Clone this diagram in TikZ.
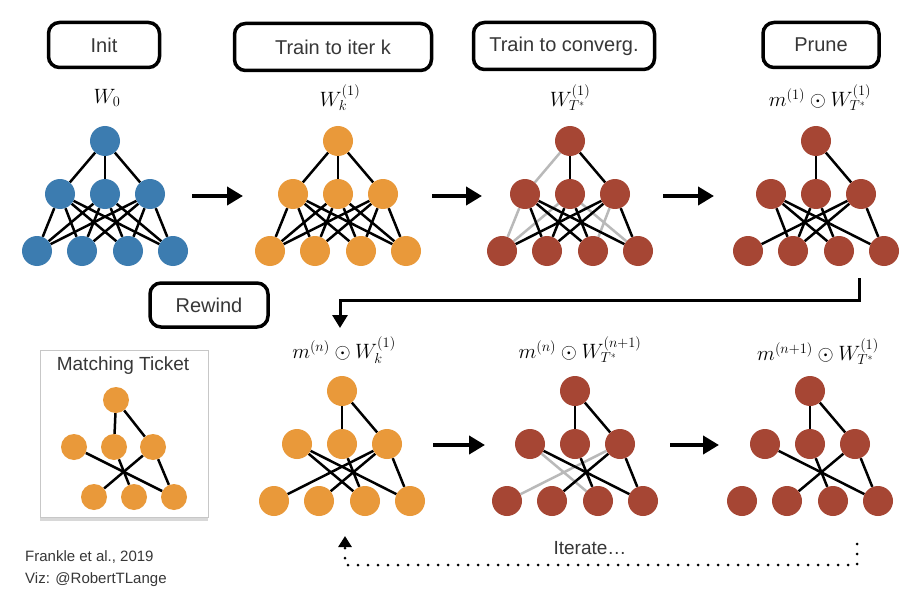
\documentclass[tikz,border=0pt]{standalone}
\usepackage{fontspec}
\setsansfont{Liberation Sans}
\usetikzlibrary{arrows.meta,shadows}
\pgfdeclarelayer{bg}
\pgfdeclarelayer{edg}
\pgfsetlayers{bg,edg,main}
\definecolor{nblue}{RGB}{60,124,176}
\definecolor{norange}{RGB}{233,153,58}
\definecolor{nred}{RGB}{166,70,52}
\definecolor{pgray}{RGB}{185,185,185}
\definecolor{txtgray}{RGB}{55,55,55}
\tikzset{
  nd/.style={circle, minimum size=30pt, inner sep=0pt},
  snd/.style={circle, minimum size=26pt, inner sep=0pt, fill=norange},
  ed/.style={line width=2.5pt, black},
  ged/.style={line width=2.5pt, pgray},
  lbl/.style={font=\fontsize{20}{22}\selectfont, inner sep=0pt},
  stagebox/.style={draw, line width=3.5pt, rounded corners=11pt, font=\fontsize{20}{22}\selectfont\sffamily, text=txtgray, inner sep=0pt},
  bigarrow/.style={line width=4pt, -{Triangle[length=16pt,width=18pt]}},
  rewarrow/.style={line width=3pt, -{Triangle[length=13pt,width=15pt]}},
  dotline/.style={line width=3pt, line cap=round, dash pattern=on 0pt off 10pt, -{Triangle[length=11pt,width=13pt]}},
  credit/.style={font=\fontsize{15}{17}\selectfont\sffamily, text=txtgray, anchor=west, inner sep=0pt}
}
\newcommand\mknet[4]{%
  \node[nd,fill=#4] (#1t) at (#2,#3) {};
  \path (#2,#3) ++(-45,53) node[nd,fill=#4] (#1m1) {};
  \path (#2,#3) ++(0,53) node[nd,fill=#4] (#1m2) {};
  \path (#2,#3) ++(45,53) node[nd,fill=#4] (#1m3) {};
  \path (#2,#3) ++(-68,110) node[nd,fill=#4] (#1b1) {};
  \path (#2,#3) ++(-23,110) node[nd,fill=#4] (#1b2) {};
  \path (#2,#3) ++(23,110) node[nd,fill=#4] (#1b3) {};
  \path (#2,#3) ++(68,110) node[nd,fill=#4] (#1b4) {};
}
\newcommand\mkedges[3]{%
  \begin{pgfonlayer}{edg}
  \foreach \p/\q in {#3} {\draw[#2] (#1\p) -- (#1\q);}
  \end{pgfonlayer}
}
\begin{document}
\begin{tikzpicture}[x=1pt,y=-1pt]
\useasboundingbox (0,0) rectangle (913,607);
\begin{pgfonlayer}{bg}
\fill[white] (0,0) rectangle (913,607);
\end{pgfonlayer}

% stage boxes
\node[stagebox, minimum width=111pt, minimum height=45pt] (init) at (104,45) {Init};
\node[stagebox, minimum width=197pt, minimum height=47pt] (train) at (333,47) {Train to iter k};
\node[stagebox, minimum width=181pt, minimum height=47pt] (conv) at (564,46) {Train to converg.};
\node[stagebox, minimum width=116pt, minimum height=45pt] (prune) at (821,45) {Prune};
\node[stagebox, minimum width=118pt, minimum height=44pt] (rewind) at (209,305) {Rewind};

% labels
\node[lbl] (l1) at (107,98) {$W_0$};
\node[lbl] (l2) at (340,98) {$W_k^{(1)}$};
\node[lbl] (l3) at (570,98) {$W_{T^*}^{(1)}$};
\node[lbl] (l4) at (820,98) {$m^{(1)}\odot W_{T^*}^{(1)}$};
\node[lbl] (l5) at (344,350) {$m^{(n)}\odot W_k^{(1)}$};
\node[lbl] (l6) at (580,350) {$m^{(n)}\odot W_{T^*}^{(n+1)}$};
\node[lbl] (l7) at (818,352) {$m^{(n+1)}\odot W_{T^*}^{(1)}$};

% networks
\mknet{a}{105}{141}{nblue}
\mknet{b}{338}{141}{norange}
\mknet{c}{570}{141}{nred}
\mknet{d}{816}{141}{nred}
\mknet{e}{342}{391}{norange}
\mknet{f}{575}{391}{nred}
\mknet{g}{810}{391}{nred}

\mkedges{a}{ed}{t/m1,t/m2,t/m3,m1/b1,m1/b2,m1/b3,m1/b4,m2/b1,m2/b2,m2/b3,m2/b4,m3/b1,m3/b2,m3/b3,m3/b4}
\mkedges{b}{ed}{t/m1,t/m2,t/m3,m1/b1,m1/b2,m1/b3,m1/b4,m2/b1,m2/b2,m2/b3,m2/b4,m3/b1,m3/b2,m3/b3,m3/b4}
\mkedges{c}{ged}{t/m1,m1/b1,m2/b1,m2/b4,m3/b3}
\mkedges{c}{ed}{t/m2,t/m3,m1/b2,m1/b3,m1/b4,m2/b2,m2/b3,m3/b1,m3/b2,m3/b4}
\mkedges{d}{ed}{t/m2,t/m3,m1/b2,m1/b3,m1/b4,m2/b2,m2/b3,m3/b1,m3/b2,m3/b4}
\mkedges{e}{ed}{t/m2,t/m3,m1/b3,m1/b4,m2/b3,m3/b1,m3/b2,m3/b4}
\mkedges{f}{ged}{m1/b3,m3/b1}
\mkedges{f}{ed}{t/m2,t/m3,m1/b4,m2/b3,m3/b2,m3/b4}
\mkedges{g}{ed}{t/m2,t/m3,m1/b4,m2/b3,m3/b2,m3/b4}

% matching ticket
\begin{pgfonlayer}{bg}
\node[draw=pgray!80, line width=1pt, fill=white, minimum width=168pt, minimum height=167pt, inner sep=0pt,
      drop shadow={shadow xshift=0pt, shadow yshift=-4pt, opacity=0.3}] (ticket) at (124,433.5) {};
\end{pgfonlayer}
\node[font=\fontsize{19}{21}\selectfont\sffamily, text=txtgray, inner sep=0pt] (tt) at (123,366) {Matching Ticket};
\node[snd] (ht) at (116,400) {};
\node[snd] (hm1) at (74,447) {};
\node[snd] (hm2) at (114,447) {};
\node[snd] (hm3) at (153,447) {};
\node[snd] (hb1) at (94,497) {};
\node[snd] (hb2) at (134,497) {};
\node[snd] (hb3) at (174,497) {};
\mkedges{h}{ed}{t/m2,t/m3,m1/b3,m2/b2,m3/b1,m3/b3}

% arrows
\coordinate (a1s) at (192,196); \coordinate (a1e) at (243,196);
\coordinate (a2s) at (432,196); \coordinate (a2e) at (482,196);
\coordinate (a3s) at (663,196); \coordinate (a3e) at (714,196);
\coordinate (a4s) at (433,445); \coordinate (a4e) at (485,445);
\coordinate (a5s) at (670,445); \coordinate (a5e) at (719,445);
\draw[bigarrow] (a1s) -- (a1e);
\draw[bigarrow] (a2s) -- (a2e);
\draw[bigarrow] (a3s) -- (a3e);
\draw[bigarrow] (a4s) -- (a4e);
\draw[bigarrow] (a5s) -- (a5e);

% rewind connector
\coordinate (r0) at (859,278);
\coordinate (r1) at (859,300);
\coordinate (r2) at (340,300);
\coordinate (r3) at (340,328);
\draw[rewarrow, line join=miter] (r0) -- (r1) -- (r2) -- (r3);

% iterate connector
\coordinate (i0) at (857,544);
\coordinate (i1) at (857,565);
\coordinate (i2) at (345,565);
\coordinate (i3) at (345,536);
\draw[dotline] (i0) -- (i1) -- (i2) -- (i3);
\node[font=\fontsize{19}{21}\selectfont\sffamily, text=txtgray, inner sep=0pt] (iter) at (590,548) {Iterate\ldots};

% credits
\node[credit] (cr1) at (25,557) {Frankle et al., 2019};
\node[credit] (cr2) at (25,580) {Viz: @RobertTLange};
\end{tikzpicture}
\end{document}
